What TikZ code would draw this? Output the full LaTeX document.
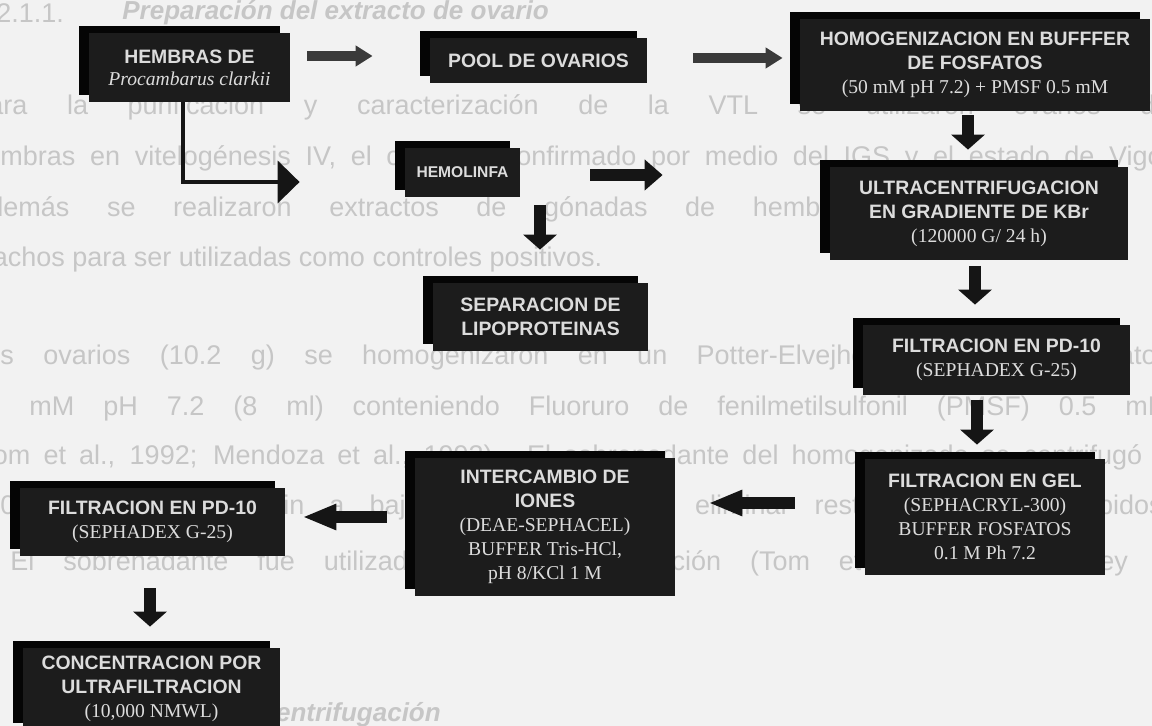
\documentclass[tikz,border=0pt]{standalone}
\usepackage{fontspec}
\setmainfont{Liberation Serif}
\setsansfont{Liberation Sans}
\usetikzlibrary{arrows.meta,shadows,calc}
\definecolor{pagebg}{HTML}{F2F2F2}
\definecolor{ghost}{HTML}{C6C6C6}
\definecolor{frontc}{HTML}{1C1C1C}
\definecolor{backc}{HTML}{050505}
\definecolor{boxtxt}{HTML}{DCDCDC}
\definecolor{arrc}{HTML}{151515}
\definecolor{arrg}{HTML}{3A3A3A}
\newcommand{\sr}[1]{{\rmfamily\mdseries\fontsize{9.8}{12}\selectfont #1}}
\begin{document}
\begin{tikzpicture}[x=0.5pt,y=-0.5pt,
  box/.style={fill=frontc, text=boxtxt, align=center, inner sep=0pt,
    font=\sffamily\bfseries\fontsize{9.7}{12}\selectfont,
    copy shadow={shadow xshift=-5pt, shadow yshift=3.5pt, fill=backc, draw=none}},
  ghosttxt/.style={text=ghost, anchor=west, inner sep=0pt, font=\sffamily\fontsize{13.5}{16}\selectfont},
  harr/.style={draw=arrg, line width=5pt, -{Triangle[length=8.5pt,width=10pt]}},
  harrb/.style={draw=arrc, line width=6pt, -{Triangle[length=9pt,width=15pt]}},
  varr/.style={draw=arrc, line width=6pt, -{Triangle[length=7.5pt,width=16.5pt]}},
  larr/.style={draw=arrc, line width=6pt, -{Triangle[length=17pt,width=12pt]}},
  lconn/.style={draw=arrc, line width=2pt, -{Triangle[length=11pt,width=21pt]}}]
\fill[pagebg] (0,0) rectangle (1152,726);
\useasboundingbox (0,0) rectangle (1152,726);
\clip (0,0) rectangle (1152,726);
% faded text of the scanned page behind the chart
\node[ghosttxt] (g0a) at (-4,13) {2.1.1.};
\node[ghosttxt, font=\sffamily\bfseries\itshape\fontsize{13}{16}\selectfont] (g0b) at (122,13) {Preparación del extracto de ovario};
\node[ghosttxt] (g1) at (-30,107) {\makebox[600pt][s]{Para la purificación y caracterización de la VTL se utilizaron ovarios de}};
\node[ghosttxt] (g2) at (-30,158) {\makebox[600pt][s]{hembras en vitelogénesis IV, el cual fue confirmado por medio del IGS y el estado de Vigo.}};
\node[ghosttxt] (g3) at (-30,209) {\makebox[600pt][s]{Además se realizaron extractos de gónadas de hembras no vitelogénicas y}};
\node[ghosttxt] (g4) at (-30,260) {machos para ser utilizadas como controles positivos.};
\node[ghosttxt] (g5) at (-30,358) {\makebox[600pt][s]{Los ovarios (10.2 g) se homogenizaron en un Potter-Elvejhem en buffer fosfatos}};
\node[ghosttxt] (g6) at (-30,409) {\makebox[600pt][s]{50 mM pH 7.2 (8 ml) conteniendo Fluoruro de fenilmetilsulfonil (PMSF) 0.5 mM}};
\node[ghosttxt] (g7) at (-30,457) {\makebox[600pt][s]{(Tom et al., 1992; Mendoza et al., 1993). El sobrenadante del homogenizado se centrifugó a}};
\node[ghosttxt] (g8) at (-30,507) {\makebox[600pt][s]{10000 rpm por 20 min a baja temperatura para eliminar restos celulares y lípidos.}};
\node[ghosttxt] (g9) at (10,563) {\makebox[580pt][s]{El sobrenadante fue utilizado para la purificación (Tom et al., 1992; Riley y}};
\node[ghosttxt, font=\sffamily\bfseries\itshape\fontsize{13}{16}\selectfont] (g10) at (202,715) {Ultracentrifugación};
% boxes
\node[box, minimum width=100.5pt, minimum height=34.5pt] (hembras) at (189.5,67.5)
  {HEMBRAS DE\\[-1pt] \sr{\itshape Procambarus clarkii}};
\node[box, minimum width=108.5pt, minimum height=22.5pt] (pool) at (538.5,60.5) {POOL DE OVARIOS};
\node[box, minimum width=175pt, minimum height=46pt] (homog) at (975,65)
  {HOMOGENIZACION EN BUFFFER\\ DE FOSFATOS\\ \sr{(50 mM pH 7.2) + PMSF 0.5 mM}};
\node[box, minimum width=57.5pt, minimum height=24.5pt, font=\sffamily\bfseries\fontsize{7.8}{9}\selectfont] (hemo) at (462.5,172.5) {HEMOLINFA};
\node[box, minimum width=107.5pt, minimum height=34pt] (separ) at (540.5,317) {SEPARACION DE\\ LIPOPROTEINAS};
\node[box, minimum width=149pt, minimum height=46.5pt] (ultra) at (979,214)
  {ULTRACENTRIFUGACION\\ EN GRADIENTE DE KBr\\ \sr{(120000 G/ 24 h)}};
\node[box, minimum width=133.5pt, minimum height=35pt] (pdr) at (996.5,360)
  {FILTRACION EN PD-10\\ \sr{(SEPHADEX G-25)}};
\node[box, minimum width=120pt, minimum height=58pt] (gel) at (985,517)
  {FILTRACION EN GEL\\ \sr{(SEPHACRYL-300)}\\ \sr{BUFFER FOSFATOS}\\ \sr{0.1 M Ph 7.2}};
\node[box, minimum width=130pt, minimum height=69pt] (inter) at (545,527)
  {INTERCAMBIO DE\\ IONES\\ \sr{(DEAE-SEPHACEL)}\\ \sr{BUFFER Tris-HCl,}\\ \sr{pH 8/KCl 1 M}};
\node[box, minimum width=132.5pt, minimum height=34pt] (pdl) at (152.5,522)
  {FILTRACION EN PD-10\\ \sr{(SEPHADEX G-25)}};
\node[box, minimum width=128.5pt, minimum height=41pt] (conc) at (151.5,689)
  {CONCENTRACION POR\\ ULTRAFILTRACION\\ \sr{(10,000 NMWL)}};
% connectors
\draw[harr] ($(hembras.east)+(17,-11.5)$) -- ($(pool.west)+(-57,-4.5)$);
\draw[harr] ($(pool.east)+(46,-2.5)$) -- ($(homog.west)+(-17,-7)$);
\draw[lconn] ($(hembras.south)+(-6.5,0)$) |- ($(hemo.west)+(-105,9.5)$);
\draw[harrb] ($(hemo.east)+(70,2.5)$) -- ($(ultra.west)+(-167,-39)$);
\draw[varr] ($(hemo.south)+(77.5,8)$) -- ($(separ.north)+(-0.5,-33)$);
\draw[varr] ($(homog.south)+(-7,4)$) -- ($(ultra.north)+(-11,-17.5)$);
\draw[varr] ($(ultra.south)+(-4,5)$) -- ($(pdr.north)+(-21.5,-20)$);
\draw[varr] ($(pdr.south)+(-19.5,5)$) -- ($(gel.north)+(-8,-14)$);
\draw[larr] ($(gel.west)+(-70,-14)$) -- ($(inter.east)+(33,-24)$);
\draw[larr] ($(inter.west)+(-28,-10)$) -- ($(pdl.east)+(17,-5)$);
\draw[varr] ($(pdl.south)+(-2.5,32)$) -- ($(conc.north)+(-1.5,-21)$);
\end{tikzpicture}
\end{document}
